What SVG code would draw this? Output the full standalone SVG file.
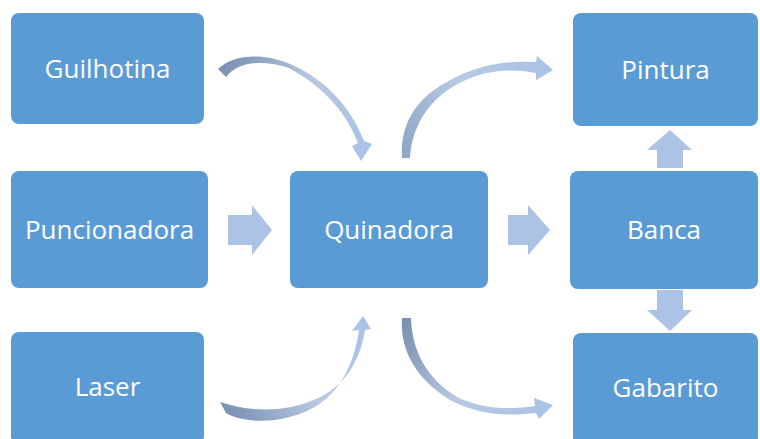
<svg xmlns="http://www.w3.org/2000/svg" width="760" height="439" viewBox="0 0 760 439">
<defs>
<style>
.box{fill:#5b9bd5;}
.lbl{fill:#ffffff;font-family:"Open Sans","Noto Sans",sans-serif;font-size:26px;text-anchor:middle;}
.blk{fill:#adc3e5;}
</style>
<linearGradient id="g1" gradientUnits="userSpaceOnUse" x1="218" y1="72" x2="362" y2="160"><stop offset="0" stop-color="#7b91b3"/><stop offset="0.5" stop-color="#b8c8e0"/><stop offset="1" stop-color="#a9c2e6"/></linearGradient>
<linearGradient id="g2" gradientUnits="userSpaceOnUse" x1="407" y1="158" x2="553" y2="70"><stop offset="0" stop-color="#8ea6c8"/><stop offset="0.5" stop-color="#b8c9e2"/><stop offset="1" stop-color="#a9c2e6"/></linearGradient>
<linearGradient id="g3" gradientUnits="userSpaceOnUse" x1="222" y1="407" x2="363" y2="316"><stop offset="0" stop-color="#7b91b3"/><stop offset="0.5" stop-color="#b8c8e0"/><stop offset="1" stop-color="#a9c2e6"/></linearGradient>
<linearGradient id="g4" gradientUnits="userSpaceOnUse" x1="407" y1="318" x2="553" y2="405"><stop offset="0" stop-color="#7b91b3"/><stop offset="0.5" stop-color="#b8c8e0"/><stop offset="1" stop-color="#a9c2e6"/></linearGradient>
</defs>
<rect width="760" height="439" fill="#ffffff"/>
<g id="connectors">
<path fill="url(#g1)" d="M218,69 C232,55 262,52 290,64 C318,76 348,100 364,141 L372,144 L361,161 L352,146 L358,143 C344,106 316,83 289,68 C262,59 238,62 226,77 Z"/>
<path fill="url(#g2)" d="M402,158 C400,125 415,100 445,83 C470,68 500,60 536,62 L537,56 L553,70 L536,80 L536,73 C504,67 476,72 451,88 C426,104 412,128 410,158 Z"/>
<path fill="url(#g3)" d="M226,413 C245,424 285,425 318,405 C340,390 354,365 359,330 L352,331 L363,316 L371,329 L365,330 C360,360 346,386 316,399 C285,413 250,412 220,402 Z"/>
<path fill="url(#g4)" d="M402,318 C400,350 415,378 450,400 C480,416 510,416 536,413 L539,419 L553,405 L534,398 L535,406 C508,410 482,409 457,397 C426,378 412,350 411,318 Z"/>
<path class="blk" d="M228,215 L252,215 L252,205 L272,230 L252,255 L252,245 L228,245 Z"/>
<path class="blk" d="M508,215 L528,215 L528,205 L550,230 L528,255 L528,245 L508,245 Z"/>
<path class="blk" d="M657,168 L657,150 L647,150 L670,130 L692,150 L683,150 L683,168 Z"/>
<path class="blk" d="M657,290 L683,290 L683,310 L692,310 L670,331 L647,310 L657,310 Z"/>
</g>
<g id="guilhotina"><rect class="box" x="11" y="13" width="193" height="111" rx="8"/><text class="lbl" x="107.5" y="77.5">Guilhotina</text></g>
<g id="puncionadora"><rect class="box" x="11" y="171" width="197" height="117" rx="8"/><text class="lbl" x="109.5" y="239">Puncionadora</text></g>
<g id="laser"><rect class="box" x="11" y="332" width="193" height="112" rx="8"/><text class="lbl" x="107.5" y="396">Laser</text></g>
<g id="quinadora"><rect class="box" x="290" y="171" width="198" height="117" rx="8"/><text class="lbl" x="389" y="239">Quinadora</text></g>
<g id="pintura"><rect class="box" x="573" y="13" width="185" height="113" rx="8"/><text class="lbl" x="665.5" y="79">Pintura</text></g>
<g id="banca"><rect class="box" x="570" y="171" width="188" height="118" rx="8"/><text class="lbl" x="664" y="239">Banca</text></g>
<g id="gabarito"><rect class="box" x="573" y="333" width="185" height="112" rx="8"/><text class="lbl" x="665.5" y="397">Gabarito</text></g>
</svg>
